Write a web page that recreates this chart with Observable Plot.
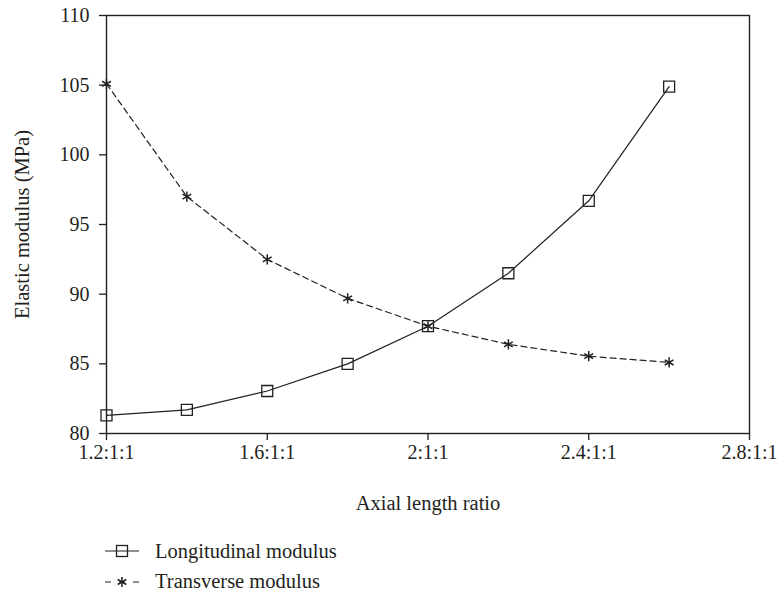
<!DOCTYPE html>
<html>
<head>
<meta charset="utf-8">
<script src="https://cdn.jsdelivr.net/npm/d3@7"></script>
<script src="https://cdn.jsdelivr.net/npm/@observablehq/plot@0.6"></script>
<style>
  html, body { margin: 0; padding: 0; background: #fff; }
  #chart { width: 777px; font-family: "Liberation Serif", serif; color: #231f20; }
  .legend { padding-top: 6px; }
  .item { height: 30px; display: flex; align-items: center; font-size: 20.5px; }
  .item svg { margin-left: 104px; margin-right: 15px; }
</style>
</head>
<body>
<div id="chart"></div>
<script>
const ratios = [1.2, 1.4, 1.6, 1.8, 2.0, 2.2, 2.4, 2.6];
const longitudinal = [81.3, 81.7, 83.05, 85.0, 87.7, 91.5, 96.7, 104.9];
const transverse = [105.1, 97.0, 92.5, 89.7, 87.7, 86.4, 85.55, 85.1];
const xTicks = [1.2, 1.6, 2.0, 2.4, 2.8];
const xTickLabels = ["1.2:1:1", "1.6:1:1", "2:1:1", "2.4:1:1", "2.8:1:1"];
const yTicks = [80, 85, 90, 95, 100, 105, 110];
const seriesNames = ["Longitudinal modulus", "Transverse modulus"];
const xLabel = "Axial length ratio";
const yLabel = "Elastic modulus (MPa)";

const ink = "#231f20";
const longData = ratios.map((r, i) => ({r, v: longitudinal[i]}));
const transData = ratios.map((r, i) => ({r, v: transverse[i]}));
const tickLabelMap = new Map(xTicks.map((t, i) => [t, xTickLabels[i]]));

const plot = Plot.plot({
  width: 777,
  height: 530,
  marginLeft: 106,
  marginRight: 28,
  marginTop: 15,
  marginBottom: 97,
  style: {fontFamily: "Liberation Serif, serif", fontSize: "20px", color: ink, background: "#fff"},
  x: {domain: [1.2, 2.8]},
  y: {domain: [80, 110]},
  marks: [
    Plot.axisX(xTicks, {tickFormat: d => tickLabelMap.get(d), tickSize: 7, tickPadding: 4, stroke: ink, strokeWidth: 1.3, label: null, fill: ink, fontSize: 20}),
    Plot.axisY(yTicks, {tickSize: 7, tickPadding: 10, stroke: ink, strokeWidth: 1.3, label: null, fill: ink, fontSize: 20}),
    Plot.frame({stroke: ink, strokeWidth: 1.4}),
    Plot.line(transData, {x: "r", y: "v", stroke: ink, strokeWidth: 1.2, strokeDasharray: "6,4"}),
    Plot.line(longData, {x: "r", y: "v", stroke: ink, strokeWidth: 1.2}),
    Plot.dot(longData, {x: "r", y: "v", symbol: "square", r: 6.2, stroke: ink, strokeWidth: 1.3, fill: "none"}),
    Plot.dot(transData, {x: "r", y: "v", symbol: "asterisk", r: 4.8, stroke: ink, strokeWidth: 1.5}),
    Plot.text([xLabel], {frameAnchor: "bottom", lineAnchor: "middle", dy: 70, fill: ink, fontSize: 20.5}),
    Plot.text([yLabel], {frameAnchor: "left", dx: -84, rotate: -90, textAnchor: "middle", lineAnchor: "middle", fill: ink, fontSize: 20.5})
  ]
});

const chart = document.getElementById("chart");
chart.appendChild(plot);

const legend = document.createElement("div");
legend.className = "legend";
legend.innerHTML = `
  <div class="item"><svg width="36" height="30" viewBox="0 0 36 30">
    <line x1="1" y1="15" x2="35" y2="15" stroke="${ink}" stroke-width="1.2"/>
    <rect x="12.5" y="9.5" width="11" height="11" fill="none" stroke="${ink}" stroke-width="1.3"/>
  </svg><span>${seriesNames[0]}</span></div>
  <div class="item"><svg width="36" height="30" viewBox="0 0 36 30">
    <line x1="1" y1="16" x2="35" y2="16" stroke="${ink}" stroke-width="1.2" stroke-dasharray="6,8"/>
    <g transform="translate(18,16)" stroke="${ink}" stroke-width="1.5">
      <line x1="0" y1="-5" x2="0" y2="5"/>
      <line x1="-4.33" y1="-2.5" x2="4.33" y2="2.5"/>
      <line x1="-4.33" y1="2.5" x2="4.33" y2="-2.5"/>
    </g>
  </svg><span>${seriesNames[1]}</span></div>`;
chart.appendChild(legend);
</script>
</body>
</html>
